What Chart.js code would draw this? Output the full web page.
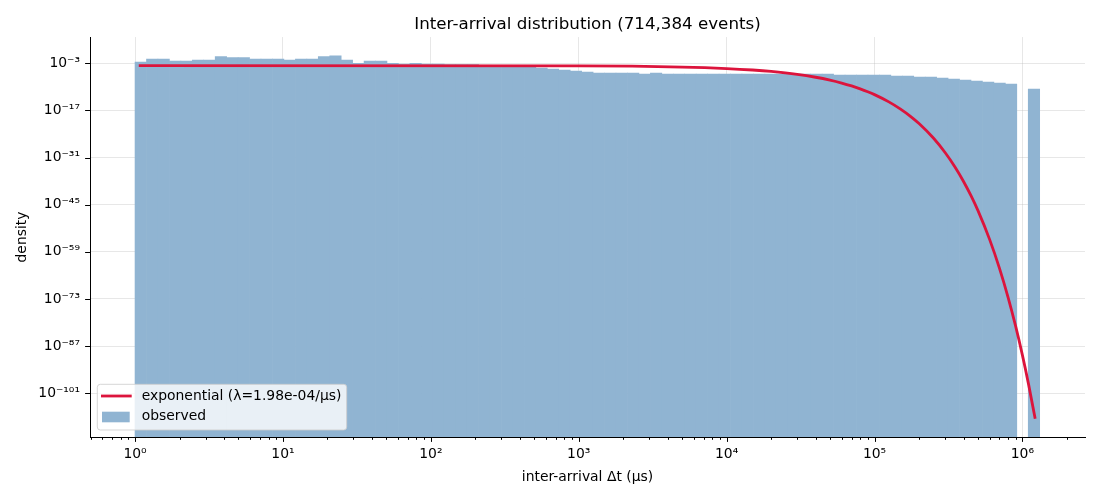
<!DOCTYPE html>
<html>
<head>
<meta charset="utf-8">
<script src="https://cdn.jsdelivr.net/npm/chart.js@4.4.0/dist/chart.umd.min.js"></script>
<style>
  html, body { margin: 0; padding: 0; background: #fff; }
  #wrap { width: 1100px; height: 500px; }
</style>
</head>
<body>
<div id="wrap"><canvas id="hist"></canvas></div>
<script>
"use strict";

// log-spaced bin edges (µs), 79 bins
const binEdges = [
  1, 1.195, 1.429, 1.708, 2.041, 2.439, 2.915, 3.483, 4.163, 4.976,
  5.947, 7.108, 8.496, 10.15, 12.14, 14.51, 17.34, 20.72, 24.77, 29.60,
  35.38, 42.27, 50.52, 60.39, 72.17, 86.25, 103.1, 123.2, 147.2, 176.0,
  210.3, 251.4, 300.5, 359.1, 429.2, 513.0, 613.1, 732.7, 875.7, 1047,
  1251, 1495, 1787, 2136, 2553, 3051, 3646, 4358, 5208, 6225,
  7440, 8891, 10626, 12700, 15180, 18140, 21680, 25910, 30970, 37020,
  44240, 52880, 63200, 75530, 90270, 107900, 128900, 154100, 184200, 220100,
  263100, 314400, 375800, 449100, 536800, 641600, 766800, 916400, 1095000, 1309000
];

// observed density per bin (null = empty bin)
const observedDensity = [
  2.5e-3, 1.9e-2, 1.9e-2, 4.8e-3, 4.8e-3, 9.5e-3, 9.5e-3, 9.1e-2, 4.6e-2, 4.6e-2,
  1.9e-2, 1.9e-2, 1.9e-2, 9.5e-3, 1.9e-2, 1.9e-2, 9.1e-2, 1.8e-1, 9.5e-3, 1.0e-3,
  4.8e-3, 4.8e-3, 1.0e-3, 6.2e-4, 1.0e-3, 6.2e-4, 6.2e-4, 4.4e-4, 4.4e-4, 4.4e-4,
  1.6e-4, 1.6e-4, 1.6e-4, 7.9e-5, 7.9e-5, 4.0e-5, 2.0e-5, 1.0e-5, 5.1e-6, 2.6e-6,
  1.3e-6, 1.3e-6, 1.3e-6, 1.3e-6, 6.6e-7, 1.3e-6, 6.6e-7, 6.6e-7, 6.6e-7, 6.6e-7,
  6.6e-7, 6.6e-7, 6.6e-7, 6.6e-7, 6.6e-7, 6.6e-7, 6.6e-7, 6.6e-7, 6.6e-7, 6.6e-7,
  6.6e-7, 3.4e-7, 3.4e-7, 3.4e-7, 3.4e-7, 3.4e-7, 1.7e-7, 1.7e-7, 8.5e-8, 8.5e-8,
  4.3e-8, 2.2e-8, 1.1e-8, 5.5e-9, 2.8e-9, 1.4e-9, 7.1e-10, null, 2.3e-11
];

// exponential fit
const fitT = [
  1.06, 1e3, 5e3, 1e4, 1.5e4, 2e4, 3e4, 4e4, 5e4, 6e4, 7e4, 8e4, 9e4, 1e5,
  1.25e5, 1.5e5, 1.75e5, 2e5, 2.5e5, 3e5, 3.5e5, 4e5, 4.5e5, 5e5,
  6e5, 7e5, 8e5, 9e5, 1e6, 1.1e6, 1.22e6
];
const fitDensity = [
  1.98e-4, 1.63e-4, 7.36e-5, 2.74e-5, 1.02e-5, 3.78e-6, 5.21e-7, 7.19e-8, 9.93e-9, 1.37e-9,
  1.90e-10, 2.63e-11, 3.63e-12, 5.01e-13, 3.55e-15, 2.51e-17, 1.78e-19, 1.26e-21, 6.31e-26,
  3.16e-30, 1.58e-34, 7.94e-39, 3.98e-43, 2.00e-47, 5.01e-56, 1.26e-64, 3.16e-73,
  8.13e-82, 2.04e-90, 5.13e-99, 2.51e-109
];

const yTicks = [1e-101, 1e-87, 1e-73, 1e-59, 1e-45, 1e-31, 1e-17, 1e-3];
const yTickLabels = ["10⁻¹⁰¹", "10⁻⁸⁷", "10⁻⁷³", "10⁻⁵⁹", "10⁻⁴⁵", "10⁻³¹", "10⁻¹⁷", "10⁻³"];
const xMajorTicks = [1, 10, 100, 1e3, 1e4, 1e5, 1e6];
const xTickLabels = ["10⁰", "10¹", "10²", "10³", "10⁴", "10⁵", "10⁶"];

const X_MIN = 0.496, X_MAX = 2.65e6;
const Y_MIN = 1e-114, Y_MAX = 6.3e4;
const gridColor = "rgba(176,176,176,0.3)";

// minor tick positions 2..9 x 10^k inside the range (drawn by the plugin)
let xMinorTicks = [];
for (let k = -1; k <= 6; k++) {
  for (let m = 2; m <= 9; m++) {
    const v = m * Math.pow(10, k);
    if (v >= X_MIN && v <= X_MAX) xMinorTicks.push(v);
  }
}

const barPoints = observedDensity.map((v, i) => ({
  x: Math.sqrt(binEdges[i] * binEdges[i + 1]),
  y: v
}));
const fitPoints = fitT.map((t, i) => ({ x: t, y: fitDensity[i] }));

Chart.defaults.font.family = "'DejaVu Sans', sans-serif";
Chart.defaults.color = "#000";

// outward tick marks like matplotlib (short minor ones on x)
const tickMarks = {
  id: "tickMarks",
  afterDraw(chart) {
    const ctx = chart.ctx;
    const xs = chart.scales.x, ys = chart.scales.y;
    const area = chart.chartArea;
    ctx.save();
    ctx.strokeStyle = "#000";
    ctx.lineWidth = 1;
    ctx.beginPath();
    xs.ticks.forEach(t => {
      const px = Math.round(xs.getPixelForValue(t.value)) + 0.5;
      ctx.moveTo(px, area.bottom);
      ctx.lineTo(px, area.bottom + 4.9);
    });
    xMinorTicks.forEach(v => {
      const px = Math.round(xs.getPixelForValue(v)) + 0.5;
      ctx.moveTo(px, area.bottom);
      ctx.lineTo(px, area.bottom + 2.8);
    });
    ys.ticks.forEach(t => {
      const py = Math.round(ys.getPixelForValue(t.value)) + 0.5;
      ctx.moveTo(area.left, py);
      ctx.lineTo(area.left - 4.9, py);
    });
    ctx.stroke();
    ctx.restore();
  }
};

// framed legend in the lower left corner of the plot
const boxLegend = {
  id: "boxLegend",
  afterDatasetsDraw(chart) {
    const ctx = chart.ctx;
    const area = chart.chartArea;
    const bx = area.left + 7.3, by = area.bottom - 52.7, bw = 249.4, bh = 45.7;
    const line = chart.data.datasets[0], bars = chart.data.datasets[1];
    ctx.save();
    ctx.beginPath();
    if (ctx.roundRect) ctx.roundRect(bx, by, bw, bh, 3);
    else ctx.rect(bx, by, bw, bh);
    ctx.fillStyle = "rgba(255,255,255,0.8)";
    ctx.fill();
    ctx.strokeStyle = "rgba(204,204,204,0.8)";
    ctx.lineWidth = 1;
    ctx.stroke();

    ctx.beginPath();
    ctx.strokeStyle = line.borderColor;
    ctx.lineWidth = line.borderWidth;
    ctx.moveTo(bx + 3.7, by + 11.7);
    ctx.lineTo(bx + 34.4, by + 11.7);
    ctx.stroke();

    ctx.fillStyle = bars.backgroundColor;
    ctx.fillRect(bx + 4.7, by + 27.4, 27.7, 10.6);

    ctx.fillStyle = "#000";
    ctx.font = "13.9px 'DejaVu Sans'";
    ctx.textBaseline = "middle";
    ctx.textAlign = "left";
    ctx.fillText(line.label, bx + 44.4, by + 11.7);
    ctx.fillText(bars.label, bx + 44.4, by + 32.4);
    ctx.restore();
  }
};

new Chart(document.getElementById("hist"), {
  type: "bar",
  data: {
    datasets: [
      {
        type: "line",
        label: "exponential (λ=1.98e-04/µs)",
        data: fitPoints,
        borderColor: "#dc143c",
        borderWidth: 2.8,
        pointRadius: 0,
        fill: false,
        cubicInterpolationMode: "monotone",
        order: 0
      },
      {
        type: "bar",
        label: "observed",
        data: barPoints,
        backgroundColor: "#90b4d2",
        borderWidth: 0,
        barPercentage: 1,
        categoryPercentage: 1,
        order: 1
      }
    ]
  },
  options: {
    responsive: true,
    maintainAspectRatio: false,
    animation: false,
    layout: { padding: { left: 0, right: 15, top: 0, bottom: 0 } },
    plugins: {
      legend: { display: false },
      tooltip: { enabled: false },
      title: {
        display: true,
        text: "Inter-arrival distribution (714,384 events)",
        fullSize: false,
        font: { size: 16.7, weight: "normal" },
        color: "#000",
        padding: { top: 15, bottom: 2 }
      }
    },
    scales: {
      x: {
        type: "logarithmic",
        min: X_MIN,
        max: X_MAX,
        bounds: "data",
        offset: false,
        afterBuildTicks: s => { s.ticks = xMajorTicks.map(v => ({ value: v })); },
        afterFit: s => { s.height = 63; },
        grid: { offset: false, drawTicks: false, color: gridColor, lineWidth: 1 },
        border: { display: true, color: "#000", width: 1 },
        ticks: {
          autoSkip: false,
          maxRotation: 0,
          padding: 9,
          font: { size: 13.9 },
          callback: v => {
            const i = xMajorTicks.findIndex(t => Math.abs(v / t - 1) < 1e-9);
            return i >= 0 ? xTickLabels[i] : "";
          }
        },
        title: {
          display: true,
          text: "inter-arrival Δt (µs)",
          font: { size: 13.9 },
          padding: { top: 0, bottom: 14.7 }
        }
      },
      y: {
        type: "logarithmic",
        min: Y_MIN,
        max: Y_MAX,
        bounds: "data",
        afterBuildTicks: s => { s.ticks = yTicks.map(v => ({ value: v })); },
        afterFit: s => { s.width = 90; },
        grid: { drawTicks: false, color: gridColor, lineWidth: 1 },
        border: { display: true, color: "#000", width: 1 },
        ticks: {
          autoSkip: false,
          padding: 10,
          font: { size: 13.9 },
          callback: v => {
            const i = yTicks.findIndex(t => Math.abs(v / t - 1) < 1e-9);
            return i >= 0 ? yTickLabels[i] : "";
          }
        },
        title: {
          display: true,
          text: "density",
          font: { size: 13.9 },
          padding: { top: 13.7, bottom: 0 }
        }
      }
    }
  },
  plugins: [tickMarks, boxLegend]
});
</script>
</body>
</html>
